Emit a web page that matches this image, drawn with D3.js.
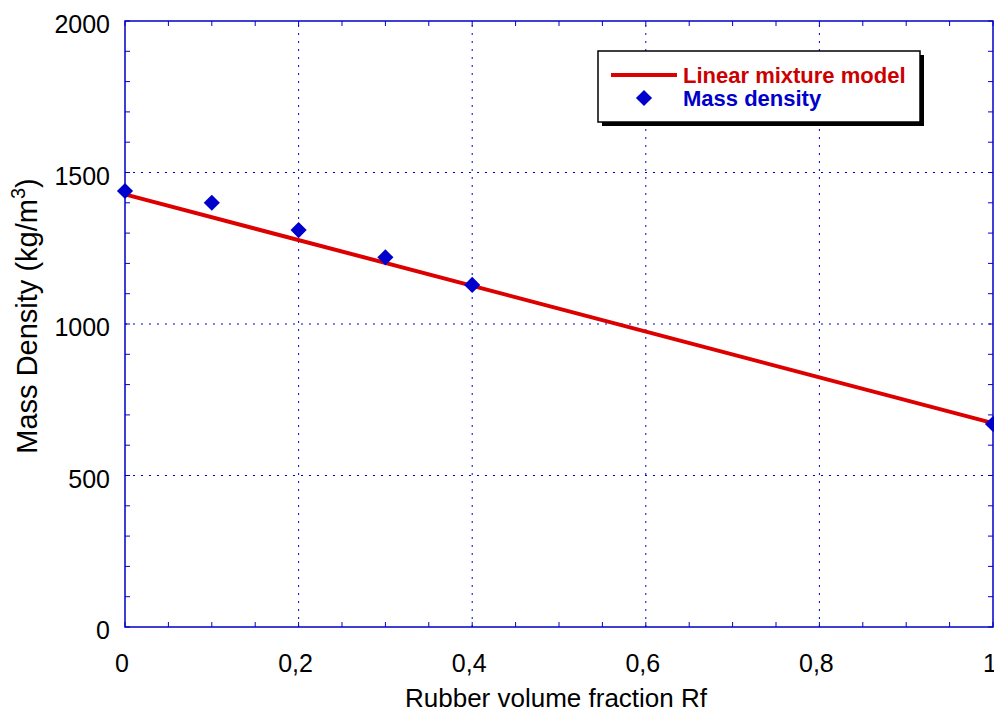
<!DOCTYPE html>
<html>
<head>
<meta charset="utf-8">
<script src="https://cdn.jsdelivr.net/npm/d3@7"></script>
<style>
  body { margin: 0; background: #fff; }
  text { font-family: "Liberation Sans", Arial, sans-serif; }
</style>
</head>
<body>
<svg id="chart" width="994" height="714"></svg>
<script>
// data
const rubberFraction = [0, 0.1, 0.2, 0.3, 0.4, 1.0]
const massDensity = [1439, 1400, 1310, 1220, 1129, 670]
const modelFraction = [0, 1]
const modelDensity = [1428, 673]
const xTicks = [0, 0.2, 0.4, 0.6, 0.8, 1]
const yTicks = [0, 500, 1000, 1500, 2000]
const legendLabels = ['Linear mixture model', 'Mass density']

const margin = {left: 125, right: 1, top: 21, bottom: 87}
const width = 994, height = 714
const blue = '#0000cc', red = '#dd0000'

const svg = d3.select('#chart')
const x = d3.scaleLinear().domain([0, 1]).range([margin.left, width - margin.right])
const y = d3.scaleLinear().domain([0, 2000]).range([height - margin.bottom, margin.top])
const fmt = d => (d === 0 || d === 1) ? String(d) : String(d).replace('.', ',')

// grid
svg.append('g').selectAll('line')
    .data(xTicks.slice(1, -1))
    .enter().append('line')
    .attr('x1', d => x(d)).attr('x2', d => x(d))
    .attr('y1', y(0)).attr('y2', y(2000))
    .style('stroke', blue).style('stroke-width', 1).style('stroke-dasharray', '2,6')
svg.append('g').selectAll('line')
    .data(yTicks.slice(1, -1))
    .enter().append('line')
    .attr('y1', d => y(d)).attr('y2', d => y(d))
    .attr('x1', x(0)).attr('x2', x(1))
    .style('stroke', blue).style('stroke-width', 1).style('stroke-dasharray', '2,6')

// ticks on all four sides, pointing inward
const xMinor = d3.range(0, 1.0001, 0.05)
const yMinor = d3.range(0, 2001, 100)
const tl = 5
const axisG = svg.append('g').style('stroke', blue).style('stroke-width', 1)
xMinor.forEach(d => {
  axisG.append('line').attr('x1', x(d)).attr('x2', x(d)).attr('y1', y(0)).attr('y2', y(0) - tl)
  axisG.append('line').attr('x1', x(d)).attr('x2', x(d)).attr('y1', y(2000)).attr('y2', y(2000) + tl)
})
yMinor.forEach(d => {
  axisG.append('line').attr('y1', y(d)).attr('y2', y(d)).attr('x1', x(0)).attr('x2', x(0) + tl)
  axisG.append('line').attr('y1', y(d)).attr('y2', y(d)).attr('x1', x(1)).attr('x2', x(1) - tl)
})

// frame
svg.append('rect')
    .attr('x', x(0)).attr('y', y(2000))
    .attr('width', x(1) - x(0)).attr('height', y(0) - y(2000))
    .style('fill', 'none').style('stroke', blue).style('stroke-width', 1.5)

// tick labels
svg.append('g').selectAll('text')
    .data(yTicks)
    .enter().append('text')
    .attr('x', 110).attr('y', d => y(d) + 12)
    .attr('text-anchor', 'end')
    .style('font-size', '25px')
    .text(d => d)
svg.append('g').selectAll('text')
    .data(xTicks)
    .enter().append('text')
    .attr('x', d => x(d) - 3).attr('y', 672)
    .attr('text-anchor', 'middle')
    .style('font-size', '25px')
    .text(fmt)

// axis titles
svg.append('text')
    .attr('x', 556).attr('y', 707)
    .attr('text-anchor', 'middle')
    .style('font-size', '26px')
    .text('Rubber volume fraction Rf')
const yt = svg.append('text')
    .attr('transform', 'translate(37,316) rotate(-90)')
    .attr('text-anchor', 'middle')
    .style('font-size', '29px')
yt.append('tspan').text('Mass Density (kg/m')
yt.append('tspan').attr('dy', -12).style('font-size', '20px').text('3')
yt.append('tspan').attr('dy', 12).text(')')

// model line
const line = d3.line().x(d => x(d[0])).y(d => y(d[1]))
svg.append('path')
    .datum(d3.zip(modelFraction, modelDensity))
    .attr('d', line)
    .style('fill', 'none').style('stroke', red).style('stroke-width', 4)

// measured points
const diamond = d3.symbol().type(d3.symbolSquare).size(130)
svg.append('g').selectAll('path')
    .data(d3.zip(rubberFraction, massDensity))
    .enter().append('path')
    .attr('d', diamond)
    .attr('transform', d => `translate(${x(d[0])},${y(d[1])}) rotate(45)`)
    .style('fill', blue)

// legend
const lg = svg.append('g')
lg.append('rect').attr('x', 602).attr('y', 55).attr('width', 322).attr('height', 71).style('fill', '#000')
lg.append('rect').attr('x', 598).attr('y', 51).attr('width', 322).attr('height', 71)
    .style('fill', '#fff').style('stroke', '#000').style('stroke-width', 1.5)
lg.append('line').attr('x1', 611).attr('x2', 677).attr('y1', 75).attr('y2', 75)
    .style('stroke', red).style('stroke-width', 4)
lg.append('path').attr('d', diamond).attr('transform', 'translate(644,98) rotate(45)').style('fill', blue)
lg.append('text').attr('x', 683).attr('y', 83)
    .style('font-size', '22px').style('font-weight', 'bold').style('fill', '#cc0000')
    .text(legendLabels[0])
lg.append('text').attr('x', 683).attr('y', 106)
    .style('font-size', '22px').style('font-weight', 'bold').style('fill', blue)
    .text(legendLabels[1])
</script>
</body>
</html>
